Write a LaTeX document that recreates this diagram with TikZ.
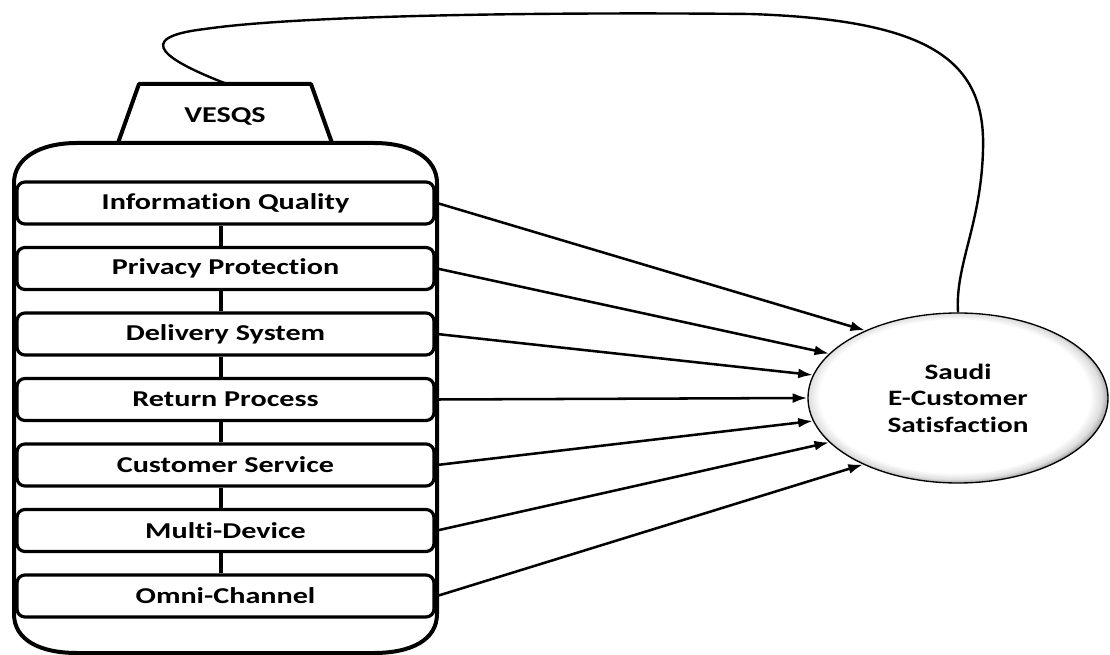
\documentclass[tikz,border=0pt]{standalone}
\usepackage{fontspec}
\setmainfont{Carlito}[FakeStretch=1.33, Ligatures=NoCommon]
\usetikzlibrary{arrows.meta,shapes.geometric}
\newcommand\nolg{\kern0pt }
\pgfdeclareradialshading{ballshade}{\pgfpoint{-1bp}{1bp}}{color(0bp)=(white); color(22.5bp)=(white); color(24.4bp)=(gray!25); color(25.6bp)=(gray!75); color(50bp)=(gray!75)}
\tikzset{
  item/.style={draw, line width=2.4pt, rounded corners=6pt, fill=white,
    minimum width=312.75pt, minimum height=31.5pt, inner sep=0pt,
    font=\bfseries\fontsize{17}{20}\selectfont},
  link/.style={line width=2.4pt},
  arr/.style={line width=1.9pt, -{Latex[length=11pt,width=7.5pt]}},
  frame/.style={line width=3pt, line join=round},
}
\begin{document}
\begin{tikzpicture}[x=0.75pt,y=-0.75pt]
\useasboundingbox (0,0) rectangle (1110,655);
% container
\draw[frame] (14,183) .. controls (14,158) and (40,143) .. (77,143) -- (374,143)
  .. controls (411,143) and (437,158) .. (437,183) -- (437,614)
  .. controls (437,640) and (411,653) .. (374,653) -- (77,653)
  .. controls (40,653) and (14,640) .. (14,614) -- cycle;
% trapezoid
\draw[frame] (118,143) -- (139,84) -- (311,84) -- (332,143);
\node[font=\bfseries\fontsize{17}{20}\selectfont] (vesqs) at (225,116) {VESQS};
\coordinate (vtop) at (227,84);
\coordinate (R) at (437,0);
% items
\foreach \n/\t [count=\i from 0] in {b1/Informat\nolg ion Quality, b2/Privacy Protect\nolg ion, b3/Delivery System, b4/Return Process, b5/Customer Service, b6/Mult\nolg i-Device, b7/Omni-Channel}
  \node[item] (\n) at (225.5,203+65.5*\i) {\t};
\foreach \a/\b in {b1/b2,b2/b3,b3/b4,b4/b5,b5/b6,b6/b7}
  \draw[link] ([xshift=-3.4pt]\a.south) -- ([xshift=-3.4pt]\b.north);
% ellipse
\node[ellipse, draw, line width=1pt, shading=ballshade, minimum width=225pt, minimum height=127.5pt, inner sep=0pt, align=center,
  font=\bfseries\fontsize{16.5}{19.9}\selectfont] (sat) at (958,398) {Saudi\\E-Customer\\Satisfact\nolg ion};
% arrows
\draw[arr] (b1.east -| R) -- (sat.144.7);
\draw[arr] (b2.east -| R) -- (sat.161.7);
\draw[arr] (b3.east -| R) -- (sat.171.8);
\draw[arr] (b4.east -| R) -- (sat.180);
\draw[arr] (b5.east -| R) -- (sat.189.7);
\draw[arr] (b6.east -| R) -- (sat.199);
\draw[arr] (b7.east -| R) -- (sat.215.7);
% feedback curve
\draw[line width=1.8pt] (vtop) .. controls (170,62) and (128,38) .. (205,29)
  .. controls (300,15) and (550,12) .. (750,14)
  .. controls (930,20) and (986,60) .. (983,150)
  .. controls (981,225) and (955,265) .. (sat.north);
\end{tikzpicture}
\end{document}
